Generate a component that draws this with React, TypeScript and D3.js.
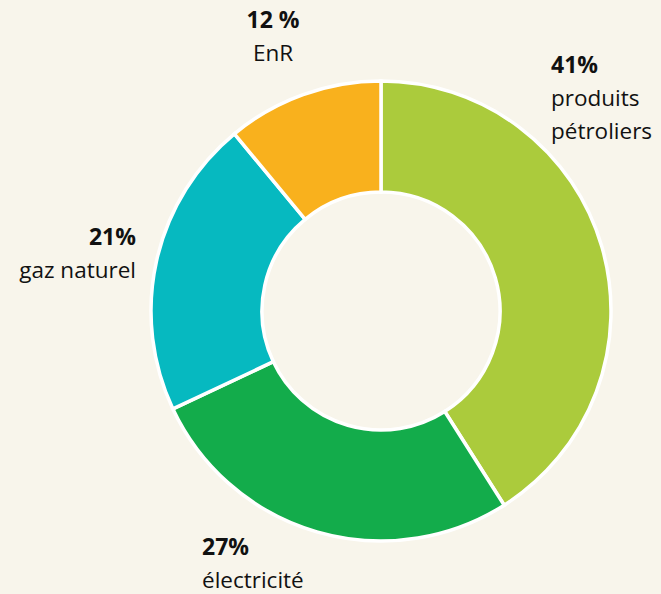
import React from "react";
import * as d3 from "d3";

const categories = ["produits pétroliers", "électricité", "gaz naturel", "EnR"];
// slice sizes (label for EnR says 12 %)
const values = [41, 27, 21, 11];
const pctLabels = ["41%", "27%", "21%", "12 %"];
const colors = ["#abcb3c", "#13ac4b", "#06b9c0", "#f9b11d"];

// label lines per slice: [x, y of first line, anchor]
const labelPos: [number, number, string][] = [
  [551, 73, "start"],
  [202, 555, "start"],
  [136, 245, "end"],
  [273, 28, "middle"],
];

const W = 661;
const H = 594;
const cx = 381;
const cy = 311;
const outerR = 230;
const innerR = 119;

const App = () => {
  const pie = d3
    .pie<number>()
    .sort(null)
    .startAngle(0)
    .endAngle(2 * Math.PI)
    .value((d) => d);
  const arcs = pie(values);
  const arc = d3
    .arc<d3.PieArcDatum<number>>()
    .innerRadius(innerR)
    .outerRadius(outerR);

  const nameLines = [["produits", "pétroliers"], ["électricité"], ["gaz naturel"], ["EnR"]];

  return (
    <svg
      width={W}
      height={H}
      style={{ position: "absolute", left: 0, top: 0, background: "#f8f5eb" }}
      fontFamily="'Open Sans', sans-serif"
    >
      <rect width={W} height={H} fill="#f8f5eb" />
      <g transform={`translate(${cx},${cy})`}>
        {arcs.map((a, i) => (
          <path
            key={categories[i]}
            d={arc(a) as string}
            fill={colors[i]}
            stroke="#ffffff"
            strokeWidth={3.5}
          />
        ))}
      </g>
      {labelPos.map(([x, y, anchor], i) => (
        <text key={i} x={x} y={y} textAnchor={anchor} fill="#111" fontSize={22.5}>
          <tspan fontWeight="bold" fontSize={23}>
            {pctLabels[i]}
          </tspan>
          {nameLines[i].map((l, j) => (
            <tspan key={j} x={x} y={y + 33 * (j + 1)}>
              {l}
            </tspan>
          ))}
        </text>
      ))}
    </svg>
  );
};

export default App;
